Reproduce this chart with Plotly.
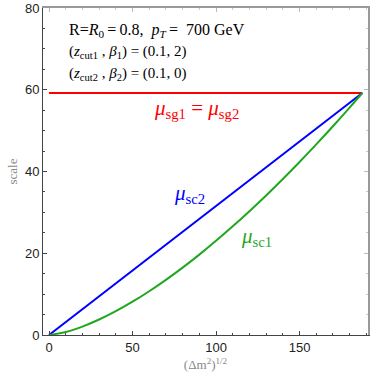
import plotly.graph_objects as go

# data
sc2_x = [0, 187.6]
sc2_y = [0, 59.2]
sc1_x = [0, 10, 20, 30, 40, 50, 60, 70, 80, 90, 100, 110, 120, 130, 140, 150, 160, 170, 180, 187.6]
sc1_y = [0, 0.73, 2.06, 3.79, 5.83, 8.15, 10.71, 13.49, 16.48, 19.67, 23.04, 26.58, 30.29, 34.15, 38.17, 42.33, 46.63, 51.07, 55.64, 59.2]
sg_x = [0, 187.6]
sg_y = [59.2, 59.2]
x_ticks = [0, 50, 100, 150]
y_ticks = [0, 20, 40, 60, 80]

XR = [-3.6, 191]
YR = [0, 80]
serif = "Liberation Serif, Times New Roman, serif"
sans = "Liberation Sans, Arial, sans-serif"

fig = go.Figure()
fig.add_trace(go.Scatter(x=sg_x, y=sg_y, mode="lines", line=dict(color="#ff0000", width=2), showlegend=False))
fig.add_trace(go.Scatter(x=sc2_x, y=sc2_y, mode="lines", line=dict(color="#0000ff", width=2), showlegend=False))
fig.add_trace(go.Scatter(x=sc1_x, y=sc1_y, mode="lines", line=dict(color="#1fa81f", width=2, shape="spline"), showlegend=False))
# invisible trace for the mirrored frame axes
fig.add_trace(go.Scatter(x=[XR[0]], y=[YR[0]], xaxis="x2", yaxis="y2", mode="markers",
                         marker=dict(opacity=0), showlegend=False, hoverinfo="skip"))

common_minor_x = dict(ticks="inside", ticklen=2, dtick=10, tick0=0, showgrid=False)
common_minor_y = dict(ticks="inside", ticklen=2, dtick=5, tick0=0, showgrid=False)

fig.update_layout(
    width=374, height=382,
    margin=dict(l=43, r=6, t=8, b=47),
    plot_bgcolor="white", paper_bgcolor="white",
    xaxis=dict(range=XR, tickvals=x_ticks, ticks="inside", ticklen=4, tickcolor="#444", automargin=False,
               showline=True, linecolor="#444", linewidth=1, showgrid=False, zeroline=False,
               tickfont=dict(family=sans, size=13, color="#222"),
               minor=dict(common_minor_x, tickcolor="#444"),
               title=dict(text="(Δm<sup>2</sup>)<sup>1/2</sup>", font=dict(family=serif, size=13, color="#888"), standoff=6)),
    yaxis=dict(range=YR, tickvals=y_ticks, ticks="inside", ticklen=4, tickcolor="#444", automargin=False,
               showline=True, linecolor="#444", linewidth=1, showgrid=False, zeroline=False,
               tickfont=dict(family=sans, size=13, color="#222"),
               minor=dict(common_minor_y, tickcolor="#444"),
               title=dict(text="scale", font=dict(family=serif, size=13, color="#888"), standoff=4)),
    xaxis2=dict(range=XR, overlaying="x", side="top", tickvals=x_ticks, ticks="inside", ticklen=4, automargin=False,
                tickcolor="#bbb", showticklabels=False, showline=True, linecolor="#999", linewidth=1.5,
                showgrid=False, zeroline=False, minor=dict(common_minor_x, tickcolor="#ccc")),
    yaxis2=dict(range=YR, overlaying="y", side="right", tickvals=y_ticks, ticks="inside", ticklen=4, automargin=False,
                tickcolor="#bbb", showticklabels=False, showline=True, linecolor="#999", linewidth=1.5,
                showgrid=False, zeroline=False, minor=dict(common_minor_y, tickcolor="#ccc")),
)

lines = [
    "R=<i>R</i><sub>0</sub>\u2009=\u20090.8,\u2002<i>p</i><sub><i>T</i></sub>\u2009=\u2002700 GeV",
    "(<i>z</i><sub>cut1</sub> , <i>β</i><sub>1</sub>) = (0.1, 2)",
    "(<i>z</i><sub>cut2</sub> , <i>β</i><sub>2</sub>) = (0.1, 0)",
]
line_y = [31, 52, 74]
line_size = [16, 15, 15]
for t, yc, fs in zip(lines, line_y, line_size):
    fig.add_annotation(text=t, xref="paper", yref="paper", x=24 / 325, y=(335 - yc) / 327,
                       xanchor="left", yanchor="middle", showarrow=False,
                       font=dict(family=serif, size=fs, color="black"))

fig.add_annotation(text="<i>μ</i><sub>sg1</sub> = <i>μ</i><sub>sg2</sub>", x=88.4, y=55.3, showarrow=False,
                   font=dict(family=serif, size=21, color="#ff0000"))
fig.add_annotation(text="<i>μ</i><sub>sc2</sub>", x=84.2, y=34.4, showarrow=False,
                   font=dict(family=serif, size=21, color="#0000ff"))
fig.add_annotation(text="<i>μ</i><sub>sc1</sub>", x=124.3, y=24.0, showarrow=False,
                   font=dict(family=serif, size=21, color="#1fa81f"))

fig.write_html("out.html", config={"displayModeBar": False},
               post_script="document.body.style.margin='0';document.body.style.padding='0';")
